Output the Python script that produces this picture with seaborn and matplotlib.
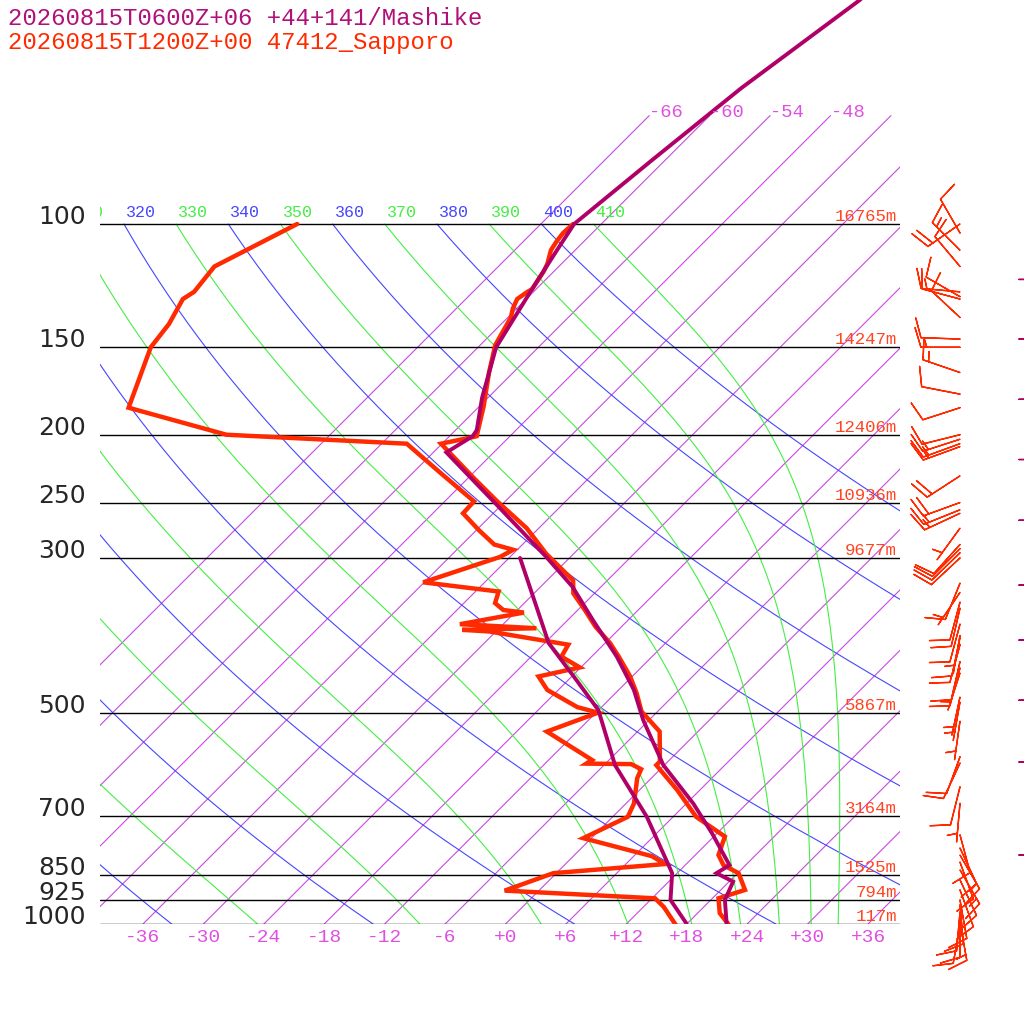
import numpy as np
import pandas as pd
import matplotlib
matplotlib.use("Agg")
import matplotlib.pyplot as plt
import matplotlib.transforms as mtransforms
import seaborn as sns

# ---- sounding data (pressure hPa, temperature C) ----
# Sapporo 47412, 12Z
sap_t_p = [1009, 965, 919, 894, 846, 824, 797, 750, 703, 643, 593, 586, 531, 497,
           468, 443, 415, 397, 376, 356, 337, 323, 296, 272, 249, 230, 212, 206,
           201, 182, 163, 149, 136, 132, 128, 125, 124, 117, 114, 109, 106, 103, 100]
sap_t = [22.6, 20.2, 18.6, 20.4, 18.1, 15.8, 14.3, 13.1, 8.3, 3.7, -0.8, -0.8, -3.8, -7.6,
         -9.9, -12.2, -15.3, -17.5, -20.6, -23.3, -26.1, -27.4, -32.7, -37.2, -42.8, -47.6,
         -52.4, -54.1, -51.3, -53.6, -56.4, -58.5, -59.7, -60.4, -60.9, -60.6, -60.4, -61.0,
         -61.4, -62.4, -62.7, -62.9, -62.8]
sap_td_p = [1009, 945, 919, 896, 846, 821, 800, 754, 703, 673, 619, 601, 591, 590, 583,
            531, 499, 490, 463, 443, 430, 415, 399, 382, 380, 378, 373, 359, 356, 348,
            335, 325, 299, 292, 287, 274, 259, 249, 228, 206, 200, 183, 150, 139, 128,
            125, 115, 100]
sap_td = [17.3, 14.0, 12.3, -3.4, -0.3, 9.9, 7.8, -0.8, 1.5, 0.8, -1.4, -1.9, -3.4, -7.9,
          -7.7, -15.0, -11.8, -14.4, -19.1, -21.3, -18.1, -21.0, -21.5, -30.7, -33.5, -26.3,
          -34.3, -29.1, -31.4, -32.9, -33.7, -42.1, -37.0, -36.4, -38.8, -41.7, -45.0, -45.1,
          -50.9, -57.5, -76.3, -88.7, -92.5, -93.0, -94.1, -93.7, -94.2, -90.2]

# Mashike model point, 06Z +06
mas_t_p = [998, 924, 870, 846, 824, 742, 673, 593, 511, 463, 415, 368, 330, 299, 251,
           212, 201, 197, 177, 150, 124, 109, 100, 81, 64, 48, 45]
mas_t = [21.9, 19.4, 18.4, 15.9, 16.4, 11.5, 6.7, -0.1, -6.6, -10.5, -15.5, -21.5, -26.8,
         -32.4, -42.7, -52.7, -51.7, -51.9, -54.6, -58.2, -60.4, -61.8, -62.7, -61.3, -59.6,
         -56.6, -56.1]
mas_td_p = [998, 924, 846, 703, 593, 495, 443, 397, 300]
mas_td = [17.9, 14.0, 11.5, 3.4, -4.9, -12.0, -17.8, -23.6, -34.9]

# Sapporo winds: pressure, direction (deg), speed (kt)
wind_p = [100, 103, 109, 115, 125, 127, 128, 136, 146, 150, 163, 175, 183, 200, 203,
          206, 208, 229, 250, 256, 259, 272, 287, 291, 295, 300, 326, 336, 347, 354,
          373, 387, 390, 399, 422, 431, 438, 474, 482, 513, 577, 589, 637, 672, 746,
          779, 797, 816, 837, 865, 894, 924, 939, 961, 981, 993, 1003]
wind_dir = [235, 330, 315, 320, 275, 300, 285, 313, 272, 270, 289, 281, 252, 256, 252,
            250, 250, 237, 250, 248, 245, 216, 222, 225, 226, 227, 202, 214, 195, 193,
            195, 190, 192, 195, 193, 195, 198, 192, 190, 188, 200, 205, 194, 185, 165,
            155, 150, 160, 150, 155, 160, 170, 175, 185, 180, 170, 190]
wind_spd = [20, 10, 15, 10, 15, 10, 10, 10, 10, 15, 15, 10, 10, 10, 15,
            15, 15, 20, 20, 15, 15, 5, 10, 10, 10, 10, 10, 5, 10, 10,
            10, 5, 10, 10, 10, 10, 5, 5, 5, 5, 10, 10, 10, 5, 10,
            10, 15, 10, 15, 10, 10, 10, 10, 10, 10, 15, 10]

# Mashike winds (column mostly off the right edge)
mas_wind_p = [120, 146, 178, 217, 265, 328, 393, 479, 587, 797]
mas_wind_spd = [5, 5, 5, 5, 5, 5, 5, 5, 5, 5]

# chart labels
plevels = [100, 150, 200, 250, 300, 500, 700, 850, 925, 1000]
heights = ["16765m", "14247m", "12406m", "10936m", "9677m", "5867m", "3164m",
           "1525m", "794m", "117m"]
iso_temps = list(range(-66, 37, 6))
iso_bottom_labels = list(range(-36, 37, 6))
iso_top_labels = [-66, -60, -54, -48]
dry_thetas = list(range(240, 401, 20))
dry_labels = [320, 340, 360, 380, 400]
moist_thetas = list(range(250, 411, 20))
moist_labels = [310, 330, 350, 370, 390, 410]

title1 = "20260815T0600Z+06 +44+141/Mashike"
title2 = "20260815T1200Z+00 47412_Sapporo"

# ---- colours ----
C_ISO = "#c84ae0"
C_ISO_TXT = "#e050e0"
C_DRY = "#4646ff"
C_MOIST = "#44ee44"
C_SAP = "#ff2a00"
C_MAS = "#b00068"
C_HGT = "#ff4422"

KAPPA = 0.2857


def moist_adiabat(theta_top, pres):
    """pseudo-adiabat integrated downward from 100 hPa"""
    Rd, Cp, Lv, eps = 287.04, 1005.7, 2.501e6, 0.622

    def dtdp(T, p):
        tc = T - 273.15
        es = 6.112 * np.exp(17.67 * tc / (tc + 243.5))
        rs = eps * es / (p - es)
        return (Rd * T + Lv * rs) / (p * (Cp + Lv * Lv * rs * eps / (Rd * T * T)))

    out = [theta_top * (pres[0] / 1000.0) ** KAPPA]
    for p0, p1 in zip(pres[:-1], pres[1:]):
        T = out[-1]
        h = p1 - p0
        k1 = dtdp(T, p0)
        k2 = dtdp(T + h * k1 / 2, p0 + h / 2)
        k3 = dtdp(T + h * k2 / 2, p0 + h / 2)
        k4 = dtdp(T + h * k3, p1)
        out.append(T + h * (k1 + 2 * k2 + 2 * k3 + k4) / 6)
    return np.array(out) - 273.15


sns.set_style("white")
plt.rcParams["font.family"] = ["Liberation Mono", "DejaVu Sans Mono"]

fig = plt.figure(figsize=(10.24, 10.24), dpi=100)
ax = fig.add_axes([100 / 1024, 100 / 1024, 800 / 1024, 924 / 1024])
ax.set_yscale("log")
ax.set_ylim(1000, 1000 * 10 ** (-924 / 700))
ax.set_xlim((100 - 505.5) / 10.07, (900 - 505.5) / 10.07)
ax.set_autoscale_on(False)
ax.axis("off")

# 45 degree skew in display space about the 1000 hPa line
y0 = 100
skew = mtransforms.Affine2D().translate(0, -y0).skew_deg(45, 0).translate(0, y0)
trans = ax.transData + skew
ylab = mtransforms.blended_transform_factory(ax.transAxes, ax.transData)

# isotherms
for t in iso_temps:
    ax.plot([t, t], [1000, 70], color=C_ISO, lw=0.8, transform=trans)
for t in iso_top_labels:
    ax.text(t, 70, f"{t:+d}", color=C_ISO_TXT, fontsize=13.5, ha="left", va="baseline",
            transform=mtransforms.offset_copy(trans, fig=fig, x=0, y=-1, units="dots"))
for t in iso_bottom_labels:
    ax.text(t, 1000, f"{t:+d}", color=C_ISO_TXT, fontsize=14, ha="center", va="center",
            transform=mtransforms.offset_copy(trans, fig=fig, x=0, y=-13, units="dots"))

# dry and moist adiabats
pgrid = np.geomspace(100, 1000, 200)
for th in dry_thetas:
    ax.plot(th * (pgrid / 1000) ** KAPPA - 273.15, pgrid, color=C_DRY, lw=0.8, transform=trans)
for th in moist_thetas:
    ax.plot(moist_adiabat(th, pgrid), pgrid, color=C_MOIST, lw=0.8, transform=trans)
lab_tr = mtransforms.offset_copy(trans, fig=fig, x=2, y=7, units="dots")
for th in dry_labels:
    ax.text(th * 0.1 ** KAPPA - 273.15, 100, str(th), color=C_DRY, fontsize=12,
            ha="left", va="baseline", transform=lab_tr, clip_on=True)
for th in moist_labels:
    ax.text(th * 0.1 ** KAPPA - 273.15, 100, str(th), color=C_MOIST, fontsize=12,
            ha="left", va="baseline", transform=lab_tr, clip_on=True)

# pressure lines and labels
for p, h in zip(plevels, heights):
    ax.axhline(p, color="black", lw=1.0)
    ax.text(-14 / 800, p, str(p), fontsize=18, family="DejaVu Sans", ha="right",
            va="baseline", transform=ylab)
    ax.text(797 / 800, p, h, fontsize=12.5, color=C_HGT, ha="right", va="baseline",
            transform=mtransforms.offset_copy(ylab, fig=fig, x=0, y=3, units="dots"))

# profiles
profiles = [
    (sap_t_p, sap_t, C_SAP, 3.2),
    (sap_td_p, sap_td, C_SAP, 3.2),
    (mas_t_p, mas_t, C_MAS, 2.8),
    (mas_td_p, mas_td, C_MAS, 2.8),
]
for pp, tt, col, lw in profiles:
    df = pd.DataFrame({"T": tt, "p": pp})
    sns.lineplot(data=df, x="T", y="p", sort=False, estimator=None, color=col, lw=lw,
                 ax=ax, transform=trans, solid_joinstyle="miter")
ax.set_xlim((100 - 505.5) / 10.07, (900 - 505.5) / 10.07)
ax.set_ylim(1000, 1000 * 10 ** (-924 / 700))
ax.axis("off")

# wind barbs
barb_sizes = dict(height=0.5, spacing=0.15, width=0.3, emptybarb=0.0)
rad = np.deg2rad(wind_dir)
u = -np.array(wind_spd) * np.sin(rad)
v = -np.array(wind_spd) * np.cos(rad)
ax.barbs(np.full(len(wind_p), 860 / 800), wind_p, u, v, transform=ylab, clip_on=False,
         length=7.5, color=C_SAP, lw=1.0, pivot="tip", sizes=barb_sizes)
ax.barbs(np.full(len(mas_wind_p), 958 / 800), mas_wind_p,
         np.array(mas_wind_spd, dtype=float), np.zeros(len(mas_wind_p)), transform=ylab,
         clip_on=False, length=7.5, color=C_MAS, lw=1.0, pivot="tip", sizes=barb_sizes)

fig.text(8 / 1024, 1 - 25 / 1024, title1, color="#b0107a", fontsize=17.3, va="baseline")
fig.text(8 / 1024, 1 - 49 / 1024, title2, color=C_SAP, fontsize=17.3, va="baseline")

fig.savefig("out.png", dpi=100)
